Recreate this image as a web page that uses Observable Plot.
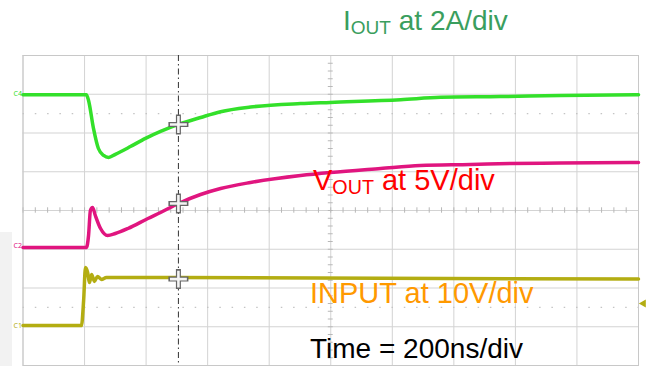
<!DOCTYPE html>
<html><head><meta charset="utf-8">
<script src="https://cdn.jsdelivr.net/npm/d3@7"></script>
<script src="https://cdn.jsdelivr.net/npm/@observablehq/plot@0.6"></script>
<style>body{margin:0;background:#fff} #chart{width:650px;height:366px;position:relative}</style>
</head><body><div id="chart"></div>
<script>
// time in ns (200 ns/div), values in screen divisions (center = 0)
const ioutT = [0, 206, 213, 229, 245, 262, 278, 300, 349, 398, 447, 505, 577, 642, 739, 902, 999, 1227, 1357, 1551, 1746, 2000];
const ioutV = [2.99, 2.99, 2.84, 2.12, 1.60, 1.42, 1.37, 1.45, 1.65, 1.86, 2.04, 2.22, 2.40, 2.55, 2.67, 2.76, 2.79, 2.86, 2.92, 2.94, 2.97, 2.99];

const voutT = [0, 206, 213, 219, 226, 235, 252, 275, 300, 341, 406, 447, 505, 577, 642, 739, 902, 999, 1162, 1291, 1454, 1584, 1746, 2000];
const voutV = [-0.955, -0.955, -0.645, 0.0, 0.077, -0.129, -0.465, -0.645, -0.594, -0.465, -0.206, -0.052, 0.181, 0.413, 0.568, 0.723, 0.903, 0.981, 1.084, 1.161, 1.187, 1.213, 1.226, 1.239];

const inputT = [0, 190, 197, 203, 210, 216, 223, 232, 242, 255, 271, 2000];
const inputV = [-2.968, -2.968, -2.32, -1.47, -1.60, -1.86, -1.65, -1.83, -1.70, -1.78, -1.73, -1.77];

const xDivs = [0, 200, 400, 600, 800, 1000, 1200, 1400, 1600, 1800, 2000];
const yDivs = [-4, -3, -2, -1, 0, 1, 2, 3, 4];
const minorX = d3.range(0, 2001, 40);
const minorY = d3.range(-4, 4.001, 0.2);
const dottedRows = [2.5, -2.5];

const cursorT = 505;
const cursorV = [2.22, 0.181, -1.77];

const channelLabels = ["C4", "C2", "C1"];
const channelLevels = [3.02, -0.9, -2.97];
const channelColors = ["#33e02a", "#e0157f", "#b3ad12"];
const inputRefLevel = -2.4;

const iout = ioutT.map((t, i) => ({t, v: ioutV[i]}));
const vout = voutT.map((t, i) => ({t, v: voutV[i]}));
const input = inputT.map((t, i) => ({t, v: inputV[i]}));
const chans = channelLabels.map((c, i) => ({c, v: channelLevels[i], color: channelColors[i]}));

const plot = Plot.plot({
  width: 650, height: 366,
  marginTop: 55, marginBottom: 1, marginLeft: 22.5, marginRight: 12,
  x: {domain: [0, 2000], axis: null},
  y: {domain: [-4, 4], axis: null},
  style: {background: "#fff", overflow: "visible"},
  marks: [
    Plot.ruleX(xDivs, {stroke: "#d3d3d3", strokeWidth: 1}),
    Plot.ruleY(yDivs, {stroke: "#d3d3d3", strokeWidth: 1}),
    Plot.ruleY(dottedRows, {stroke: "#c4c4c4", strokeWidth: 1.2, strokeDasharray: "1.5 10.8"}),
    Plot.ruleX(minorX, {y1: -0.07, y2: 0.07, stroke: "#b8b8b8"}),
    Plot.ruleY(minorY, {x1: 992, x2: 1008, stroke: "#b8b8b8"}),
    Plot.frame({stroke: "#c8c8c8"}),
    Plot.line(input, {x: "t", y: "v", stroke: channelColors[2], strokeWidth: 3.5, curve: "monotone-x"}),
    Plot.line(vout, {x: "t", y: "v", stroke: channelColors[1], strokeWidth: 3.5, curve: "monotone-x"}),
    Plot.line(iout, {x: "t", y: "v", stroke: channelColors[0], strokeWidth: 3.5, curve: "monotone-x"}),
    Plot.ruleX([cursorT], {stroke: "#333", strokeWidth: 1, strokeDasharray: "6 3 1.5 3"}),
    Plot.dot(cursorV, {x: () => cursorT, y: d => d, symbol: "plus", r: 6.5, stroke: "#666", strokeWidth: 5}),
    Plot.dot(cursorV, {x: () => cursorT, y: d => d, symbol: "plus", r: 5.5, stroke: "#f4f4f4", strokeWidth: 2.6}),
    Plot.text(chans, {x: () => 0, y: "v", text: "c", fill: "color", fontSize: 7, textAnchor: "end", dx: -1}),
    Plot.dot([inputRefLevel], {x: () => 2000, y: d => d, dx: 5, symbol: "triangle", rotate: -90, r: 3, fill: channelColors[2], stroke: "none"})
  ]
});
document.getElementById("chart").appendChild(plot);

const svg = d3.select(plot);
// faint slide panel at lower left
svg.insert("rect", ":first-child").attr("x", 0).attr("y", 232).attr("width", 12).attr("height", 134).attr("fill", "#f2f2f2");
function label(x, y, size, color, parts) {
  const t = svg.append("text").attr("x", x).attr("y", y)
    .attr("text-anchor", "start")
    .attr("font-family", "Liberation Sans, Arial, sans-serif")
    .attr("font-size", size).attr("fill", color);
  let shifted = 0;
  parts.forEach(([s, sub]) => {
    const sp = t.append("tspan").text(s);
    if (sub) { sp.attr("font-size", size * 0.68).attr("dy", 4 - shifted); shifted = 4; }
    else { sp.attr("dy", -shifted); shifted = 0; }
  });
}
label(343, 30, 28, "#3a9e5e", [["I", false], ["OUT", true], [" at 2A/div", false]]);
label(313, 190, 29, "#ff0000", [["V", false], ["OUT", true], [" at 5V/div", false]]);
label(310, 303, 29, "#ff9900", [["INPUT at 10V/div", false]]);
label(310, 358, 28, "#000000", [["Time = 200ns/div", false]]);
</script></body></html>
